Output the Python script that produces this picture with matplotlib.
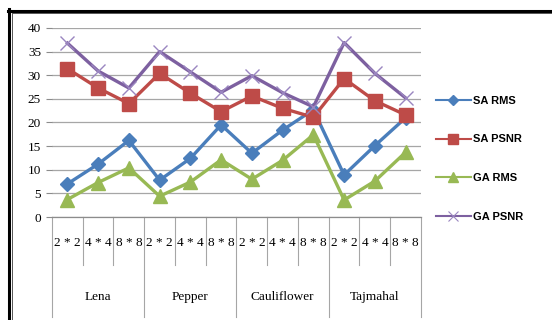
import matplotlib
matplotlib.use("Agg")
import matplotlib.pyplot as plt
from matplotlib.lines import Line2D

# Block sizes per image and the image groups
block_sizes = ["2 * 2", "4 * 4", "8 * 8"]
images = ["Lena", "Pepper", "Cauliflower", "Tajmahal"]

# Series values, ordered image by image, block size by block size
sa_rms = [7.0, 11.2, 16.2, 7.8, 12.4, 19.5, 13.5, 18.4, 22.7, 8.9, 15.1, 21.0]
sa_psnr = [31.4, 27.3, 24.0, 30.4, 26.2, 22.3, 25.6, 23.0, 21.1, 29.3, 24.6, 21.6]
ga_rms = [3.7, 7.3, 10.4, 4.4, 7.4, 12.1, 8.0, 12.0, 17.4, 3.6, 7.6, 13.7]
ga_psnr = [36.8, 30.9, 27.3, 35.0, 30.7, 26.4, 29.9, 26.3, 23.3, 36.9, 30.4, 25.2]

y_ticks = [0, 5, 10, 15, 20, 25, 30, 35, 40]

W, H = 552, 320
fig = plt.figure(figsize=(W / 100, H / 100), dpi=100)
fig.patch.set_facecolor("white")

# Plot area in pixel coordinates
x0, x1 = 52, 421
y_top, y_bot = 28, 217
ax = fig.add_axes([x0 / W, (H - y_bot) / H, (x1 - x0) / W, (y_bot - y_top) / H])

labels_x = [f"{b}" for _ in images for b in block_sizes]
xs = list(range(len(labels_x)))

series = [
    ("SA RMS", sa_rms, "#4A7EBB", "D", 7, 5),
    ("SA PSNR", sa_psnr, "#BE4B48", "s", 10, 6.5),
    ("GA RMS", ga_rms, "#98B954", "^", 10, 6.5),
    ("GA PSNR", ga_psnr, "#7D60A0", "x", 10, 6.5),
]

handles = []
for name, vals, col, mk, ms, lms in series:
    kw = dict(color=col, lw=2.4, marker=mk, markersize=ms, zorder=3)
    if mk == "x":
        kw.update(markeredgewidth=1.0, markeredgecolor="#9A86C0")
    else:
        kw.update(markeredgecolor=col, markerfacecolor=col)
    ax.plot(xs, vals, **kw)
    hkw = dict(color=col, lw=1.5, marker=mk, markersize=lms)
    if mk == "x":
        hkw.update(markeredgewidth=0.8, markeredgecolor="#9A86C0")
    handles.append(Line2D([], [], label=name, **hkw))

ax.set_xlim(-0.5, len(xs) - 0.5)
ax.set_ylim(0, 40)
ax.set_yticks(y_ticks)
ax.set_yticklabels([str(t) for t in y_ticks], family="Liberation Serif", fontsize=9.5)
ax.tick_params(axis="y", length=4, width=0.8, color="#8C8C8C", pad=4)
ax.set_xticks([])
ax.grid(axis="y", color="#A6A6A6", lw=0.9)
ax.set_axisbelow(True)
for s in ["top", "right", "left"]:
    ax.spines[s].set_visible(False)
ax.spines["bottom"].set_color("#8C8C8C")
ax.spines["bottom"].set_linewidth(0.9)

# Category axis: block size labels, group labels and divider lines
trans = ax.get_xaxis_transform()
ah = y_bot - y_top


def fy(px):
    return (y_bot - px) / ah


for i, lab in enumerate(labels_x):
    ax.text(i, fy(243), lab, transform=trans, ha="center", va="center",
            family="Liberation Serif", fontsize=9.5)
for k in range(len(xs) + 1):
    xb = k - 0.5
    yend = fy(317) if k % 3 == 0 else fy(265)
    ax.plot([xb, xb], [0, yend], transform=trans, color="#A6A6A6", lw=0.8,
            clip_on=False)
for g, name in enumerate(images):
    ax.text(g * 3 + 1, fy(297), name, transform=trans, ha="center", va="center",
            family="Liberation Serif", fontsize=9.5)

leg = fig.legend(handles=handles, loc="upper left",
                 bbox_to_anchor=(430 / W, (H - 90) / H),
                 frameon=False,
                 prop={"family": "Liberation Sans", "weight": "bold", "size": 8,
                       "stretch": "condensed"},
                 handlelength=3.2, handletextpad=0.15, labelspacing=2.6, borderpad=0)

# Outer frame: heavy black line on the left and top with a thin inner rule
fig.add_artist(Line2D([9 / W, 9 / W], [0, (H - 9) / H], color="black", lw=2.2,
                      transform=fig.transFigure))
fig.add_artist(Line2D([8 / W, 1], [(H - 10.5) / H, (H - 10.5) / H], color="black", lw=2.2,
                      transform=fig.transFigure))
fig.add_artist(Line2D([11.8 / W, 11.8 / W], [0, (H - 12.5) / H], color="#555555", lw=0.7,
                      transform=fig.transFigure))
fig.add_artist(Line2D([11.8 / W, 1], [(H - 12.8) / H, (H - 12.8) / H], color="#555555", lw=0.7,
                      transform=fig.transFigure))

fig.savefig("out.png", dpi=100, facecolor="white")
